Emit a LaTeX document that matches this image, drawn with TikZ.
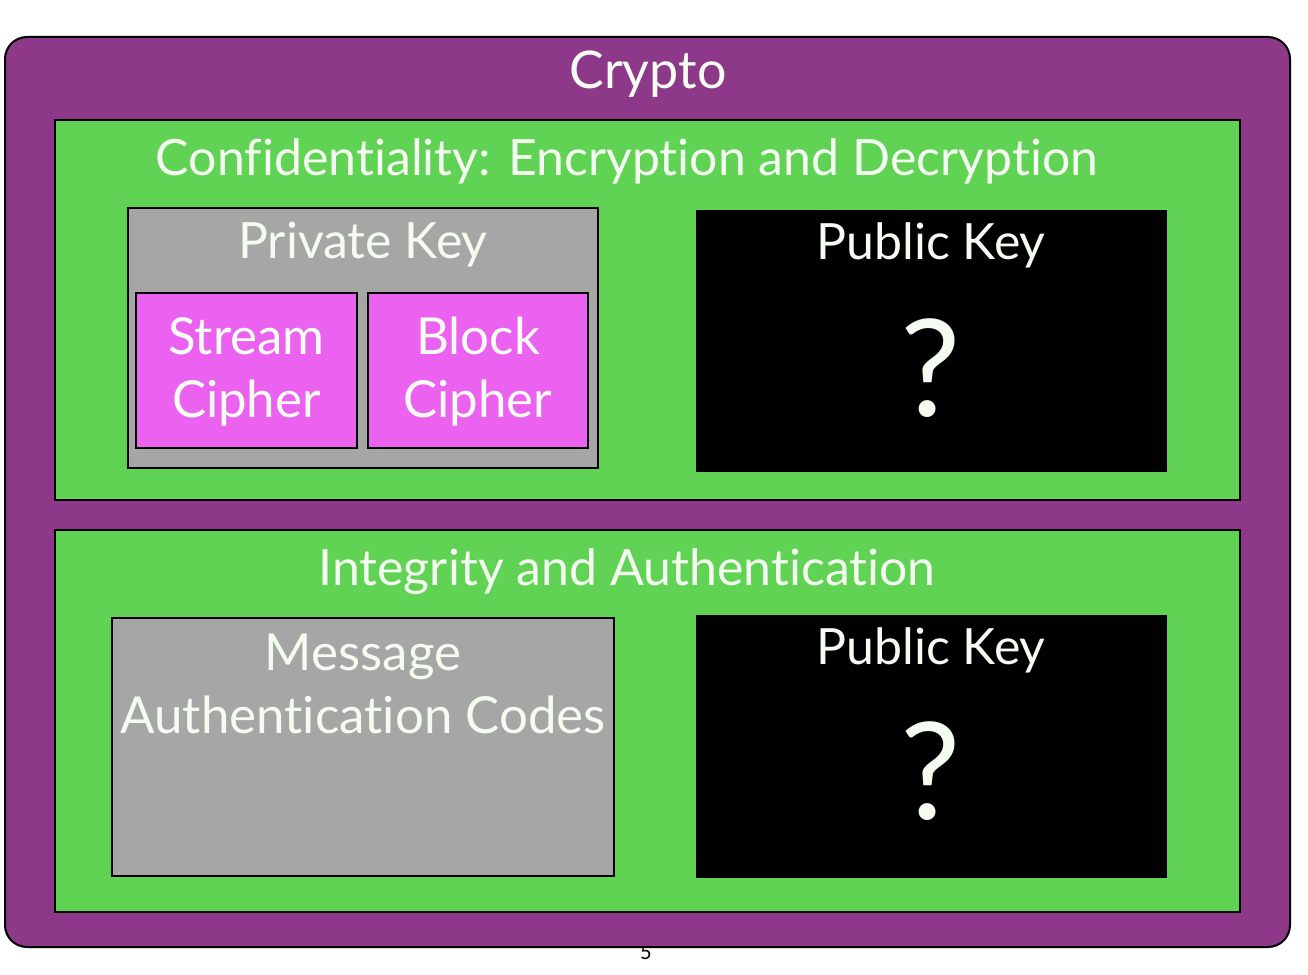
\documentclass[tikz,border=0pt]{standalone}
\usepackage{fontspec}
\setmainfont{Lato}[Ligatures={NoCommon}]
\definecolor{cpurple}{HTML}{8D3889}
\definecolor{cgreen}{HTML}{60D254}
\definecolor{cgrey}{HTML}{A6A6A6}
\definecolor{cmag}{HTML}{EC62F0}
\definecolor{ctext}{HTML}{F4FBF0}
\tikzset{
  panel/.style={draw=black, line width=2pt, inner sep=0pt, outer sep=0pt},
  outerbox/.style={panel, fill=cpurple, rounded corners=22pt},
  greenbox/.style={panel, fill=cgreen},
  greybox/.style={panel, fill=cgrey},
  magbox/.style={panel, fill=cmag},
  blackbox/.style={fill=black, draw=none, inner sep=0pt, outer sep=0pt},
  lbl/.style={text=ctext, inner sep=0pt, align=center},
}
\begin{document}
\begin{tikzpicture}[x=1pt,y=-1pt]
\useasboundingbox (0,0) rectangle (1308,974);
% page number partly hidden
\node[inner sep=0pt, font=\fontsize{20}{22}\selectfont] (pnum) at (646,952) {5};
% outer
\node[outerbox, minimum width=1285pt, minimum height=910pt] (crypto) at (647.5,492) {};
\node[lbl, font=\fontsize{52}{55}\selectfont] (cryptot) at (648,74) {Crypto};
% confidentiality
\node[greenbox, minimum width=1185pt, minimum height=380pt] (conf) at (647.5,310) {};
\node[lbl, font=\fontsize{50}{55}\selectfont] (conft) at (627,161) {Confidentiality: Encryption and Decryption};
% private key
\node[greybox, minimum width=470pt, minimum height=260pt] (priv) at (363,338) {};
\node[lbl, font=\fontsize{50}{55}\selectfont] (privt) at (363,245) {Private Key};
\node[magbox, minimum width=221pt, minimum height=155pt] (stream) at (246.5,370.5) {};
\node[lbl, font=\fontsize{51}{63}\selectfont] (streamt) at (246.5,372) {Stream\\Cipher};
\node[magbox, minimum width=220pt, minimum height=155pt] (block) at (478,370.5) {};
\node[lbl, font=\fontsize{51}{63}\selectfont] (blockt) at (478,372) {Block\\Cipher};
% public key 1
\node[blackbox, minimum width=471pt, minimum height=262pt] (pub1) at (931.5,341) {};
\node[lbl, font=\fontsize{50}{55}\selectfont] (pub1t) at (931,245) {Public Key};
\node[lbl, font=\fontsize{135}{135}\selectfont] (q1) at (931,368) {?};
% integrity
\node[greenbox, minimum width=1185pt, minimum height=382pt] (integ) at (647.5,721) {};
\node[lbl, font=\fontsize{50}{55}\selectfont] (integt) at (627,572) {Integrity and Authentication};
% MAC
\node[greybox, minimum width=502pt, minimum height=258pt] (mac) at (363,747) {};
\node[lbl, font=\fontsize{51}{63}\selectfont] (mact) at (363,684) {Message\\Authentication Codes};
% public key 2
\node[blackbox, minimum width=471pt, minimum height=263pt] (pub2) at (931.5,746.5) {};
\node[lbl, font=\fontsize{50}{55}\selectfont] (pub2t) at (931,650) {Public Key};
\node[lbl, font=\fontsize{135}{135}\selectfont] (q2) at (931,771) {?};
\end{tikzpicture}
\end{document}
